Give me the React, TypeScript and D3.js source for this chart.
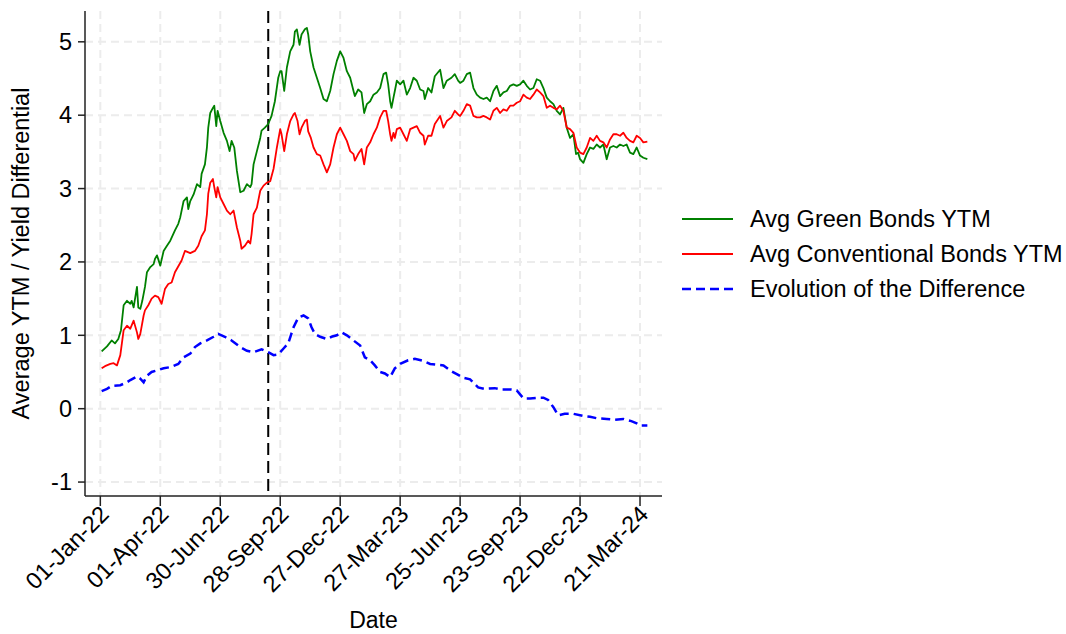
import React from 'react';
import * as d3 from 'd3';

// values (date, value)
const greenSeries: [string, number][] = [
  ['2022-01-03', 0.78], ['2022-01-11', 0.85], ['2022-01-18', 0.93], ['2022-01-23', 0.89], ['2022-01-28', 0.95],
  ['2022-02-01', 1.07], ['2022-02-05', 1.41], ['2022-02-10', 1.47], ['2022-02-15', 1.43], ['2022-02-17', 1.47],
  ['2022-02-20', 1.38], ['2022-02-25', 1.66], ['2022-02-27', 1.38], ['2022-03-02', 1.36], ['2022-03-05', 1.47],
  ['2022-03-09', 1.66], ['2022-03-12', 1.86], ['2022-03-17', 1.93], ['2022-03-22', 1.97], ['2022-03-24', 2.04],
  ['2022-03-27', 2.09], ['2022-04-01', 1.95], ['2022-04-06', 2.15], ['2022-04-11', 2.22], ['2022-04-16', 2.29],
  ['2022-04-23', 2.43], ['2022-04-28', 2.52], ['2022-05-01', 2.61], ['2022-05-06', 2.83], ['2022-05-11', 2.88],
  ['2022-05-13', 2.72], ['2022-05-16', 2.83], ['2022-05-21', 2.92], ['2022-05-26', 3.06], ['2022-05-31', 3.02],
  ['2022-06-02', 3.2], ['2022-06-07', 3.33], ['2022-06-10', 3.56], ['2022-06-12', 3.83], ['2022-06-15', 4.03],
  ['2022-06-19', 4.1], ['2022-06-21', 4.13], ['2022-06-24', 3.85], ['2022-06-26', 4.06], ['2022-06-30', 3.92],
  ['2022-07-05', 3.76], ['2022-07-10', 3.65], ['2022-07-14', 3.51], ['2022-07-17', 3.65], ['2022-07-21', 3.56],
  ['2022-07-25', 3.24], ['2022-07-30', 2.95], ['2022-08-04', 2.97], ['2022-08-09', 3.06], ['2022-08-14', 3.02],
  ['2022-08-16', 3.06], ['2022-08-19', 3.33], ['2022-08-24', 3.51], ['2022-08-29', 3.69], ['2022-08-31', 3.79],
  ['2022-09-05', 3.83], ['2022-09-10', 3.88], ['2022-09-15', 3.99], ['2022-09-20', 4.19], ['2022-09-25', 4.51],
  ['2022-09-28', 4.6], ['2022-09-30', 4.6], ['2022-10-04', 4.33], ['2022-10-08', 4.65], ['2022-10-13', 4.87],
  ['2022-10-18', 4.96], ['2022-10-20', 5.14], ['2022-10-23', 5.17], ['2022-10-27', 4.96], ['2022-10-30', 5.1],
  ['2022-11-04', 5.17], ['2022-11-07', 5.19], ['2022-11-09', 5.1], ['2022-11-12', 4.87], ['2022-11-17', 4.65],
  ['2022-11-22', 4.51], ['2022-11-27', 4.37], ['2022-12-02', 4.22], ['2022-12-07', 4.19], ['2022-12-12', 4.33],
  ['2022-12-17', 4.56], ['2022-12-22', 4.74], ['2022-12-27', 4.87], ['2023-01-01', 4.78], ['2023-01-06', 4.6],
  ['2023-01-11', 4.51], ['2023-01-16', 4.33], ['2023-01-18', 4.26], ['2023-01-23', 4.35], ['2023-01-28', 4.31],
  ['2023-02-01', 4.03], ['2023-02-05', 4.15], ['2023-02-10', 4.19], ['2023-02-15', 4.28], ['2023-02-20', 4.31],
  ['2023-02-25', 4.37], ['2023-03-02', 4.56], ['2023-03-06', 4.58], ['2023-03-09', 4.42], ['2023-03-12', 4.19],
  ['2023-03-14', 4.1], ['2023-03-17', 4.24], ['2023-03-19', 4.33], ['2023-03-22', 4.47], ['2023-03-27', 4.42],
  ['2023-04-01', 4.47], ['2023-04-06', 4.28], ['2023-04-11', 4.37], ['2023-04-16', 4.51], ['2023-04-21', 4.47],
  ['2023-04-26', 4.35], ['2023-05-01', 4.33], ['2023-05-03', 4.22], ['2023-05-08', 4.37], ['2023-05-13', 4.31],
  ['2023-05-18', 4.53], ['2023-05-26', 4.62], ['2023-05-31', 4.37], ['2023-06-05', 4.47], ['2023-06-12', 4.51],
  ['2023-06-17', 4.56], ['2023-06-22', 4.47], ['2023-06-25', 4.44], ['2023-06-30', 4.47], ['2023-07-05', 4.56],
  ['2023-07-10', 4.58], ['2023-07-15', 4.37], ['2023-07-20', 4.28], ['2023-07-25', 4.24], ['2023-07-30', 4.22],
  ['2023-08-04', 4.24], ['2023-08-09', 4.19], ['2023-08-14', 4.33], ['2023-08-19', 4.4], ['2023-08-24', 4.26],
  ['2023-08-29', 4.31], ['2023-09-03', 4.33], ['2023-09-08', 4.4], ['2023-09-13', 4.42], ['2023-09-18', 4.4],
  ['2023-09-23', 4.42], ['2023-09-28', 4.47], ['2023-10-03', 4.4], ['2023-10-08', 4.35], ['2023-10-13', 4.37],
  ['2023-10-18', 4.49], ['2023-10-23', 4.47], ['2023-10-28', 4.37], ['2023-11-02', 4.24], ['2023-11-07', 4.19],
  ['2023-11-12', 4.15], ['2023-11-17', 4.06], ['2023-11-22', 4.01], ['2023-11-27', 4.1], ['2023-12-02', 3.83],
  ['2023-12-07', 3.69], ['2023-12-12', 3.74], ['2023-12-16', 3.47], ['2023-12-19', 3.49], ['2023-12-22', 3.4],
  ['2023-12-27', 3.35], ['2024-01-01', 3.47], ['2024-01-06', 3.56], ['2024-01-11', 3.54], ['2024-01-16', 3.6],
  ['2024-01-21', 3.56], ['2024-01-26', 3.6], ['2024-01-31', 3.4], ['2024-02-05', 3.56], ['2024-02-10', 3.58],
  ['2024-02-15', 3.56], ['2024-02-20', 3.6], ['2024-02-25', 3.58], ['2024-03-01', 3.6], ['2024-03-06', 3.49],
  ['2024-03-11', 3.47], ['2024-03-16', 3.56], ['2024-03-21', 3.45], ['2024-03-26', 3.42], ['2024-04-01', 3.4],
];

const redSeries: [string, number][] = [
  ['2022-01-03', 0.55], ['2022-01-08', 0.58], ['2022-01-16', 0.61], ['2022-01-21', 0.62], ['2022-01-26', 0.59],
  ['2022-01-31', 0.73], ['2022-02-05', 1.07], ['2022-02-10', 1.13], ['2022-02-15', 1.09], ['2022-02-20', 1.2],
  ['2022-02-25', 1.04], ['2022-02-27', 0.95], ['2022-03-02', 1.02], ['2022-03-07', 1.27], ['2022-03-09', 1.34],
  ['2022-03-14', 1.41], ['2022-03-19', 1.5], ['2022-03-24', 1.54], ['2022-03-29', 1.52], ['2022-04-03', 1.43],
  ['2022-04-08', 1.63], ['2022-04-13', 1.7], ['2022-04-18', 1.72], ['2022-04-23', 1.86], ['2022-05-03', 2.02],
  ['2022-05-08', 2.15], ['2022-05-16', 2.12], ['2022-05-23', 2.15], ['2022-05-28', 2.22], ['2022-06-02', 2.35],
  ['2022-06-07', 2.43], ['2022-06-10', 2.65], ['2022-06-12', 2.93], ['2022-06-15', 3.08], ['2022-06-19', 3.13],
  ['2022-06-21', 3.02], ['2022-06-24', 2.88], ['2022-06-26', 3.02], ['2022-06-30', 2.88], ['2022-07-05', 2.79],
  ['2022-07-10', 2.7], ['2022-07-15', 2.65], ['2022-07-20', 2.7], ['2022-07-25', 2.47], ['2022-07-30', 2.29],
  ['2022-08-01', 2.18], ['2022-08-06', 2.22], ['2022-08-11', 2.29], ['2022-08-14', 2.25], ['2022-08-16', 2.38],
  ['2022-08-19', 2.65], ['2022-08-24', 2.74], ['2022-08-29', 2.97], ['2022-09-03', 3.04], ['2022-09-08', 3.08],
  ['2022-09-13', 3.1], ['2022-09-18', 3.27], ['2022-09-23', 3.56], ['2022-09-28', 3.81], ['2022-09-30', 3.74],
  ['2022-10-04', 3.51], ['2022-10-08', 3.74], ['2022-10-13', 3.92], ['2022-10-18', 4.01], ['2022-10-20', 4.03],
  ['2022-10-24', 3.92], ['2022-10-27', 3.74], ['2022-10-30', 3.83], ['2022-11-04', 3.92], ['2022-11-07', 3.94],
  ['2022-11-09', 3.78], ['2022-11-13', 3.69], ['2022-11-17', 3.56], ['2022-11-22', 3.47], ['2022-11-27', 3.45],
  ['2022-12-02', 3.33], ['2022-12-07', 3.22], ['2022-12-12', 3.33], ['2022-12-17', 3.56], ['2022-12-22', 3.74],
  ['2022-12-27', 3.83], ['2023-01-01', 3.74], ['2023-01-06', 3.65], ['2023-01-11', 3.51], ['2023-01-16', 3.47],
  ['2023-01-18', 3.38], ['2023-01-23', 3.47], ['2023-01-28', 3.54], ['2023-02-01', 3.33], ['2023-02-05', 3.56],
  ['2023-02-10', 3.63], ['2023-02-15', 3.74], ['2023-02-20', 3.83], ['2023-02-25', 3.97], ['2023-03-02', 4.06],
  ['2023-03-06', 4.06], ['2023-03-09', 3.92], ['2023-03-12', 3.74], ['2023-03-14', 3.65], ['2023-03-17', 3.76],
  ['2023-03-19', 3.69], ['2023-03-22', 3.81], ['2023-03-27', 3.83], ['2023-04-01', 3.74], ['2023-04-06', 3.65],
  ['2023-04-11', 3.81], ['2023-04-16', 3.83], ['2023-04-21', 3.85], ['2023-04-26', 3.76], ['2023-05-01', 3.72],
  ['2023-05-03', 3.6], ['2023-05-08', 3.72], ['2023-05-13', 3.72], ['2023-05-18', 3.88], ['2023-05-26', 3.99],
  ['2023-05-31', 3.83], ['2023-06-05', 3.92], ['2023-06-12', 3.97], ['2023-06-17', 4.06], ['2023-06-22', 4.01],
  ['2023-06-25', 3.99], ['2023-06-30', 4.06], ['2023-07-05', 4.15], ['2023-07-10', 4.13], ['2023-07-15', 3.99],
  ['2023-07-20', 3.97], ['2023-07-25', 3.97], ['2023-07-30', 3.99], ['2023-08-04', 3.97], ['2023-08-09', 3.94],
  ['2023-08-14', 4.06], ['2023-08-19', 4.1], ['2023-08-24', 4.03], ['2023-08-29', 4.08], ['2023-09-03', 4.06],
  ['2023-09-08', 4.13], ['2023-09-13', 4.13], ['2023-09-18', 4.17], ['2023-09-23', 4.19], ['2023-09-28', 4.28],
  ['2023-10-03', 4.24], ['2023-10-08', 4.22], ['2023-10-13', 4.28], ['2023-10-18', 4.35], ['2023-10-23', 4.31],
  ['2023-10-28', 4.26], ['2023-11-02', 4.1], ['2023-11-07', 4.13], ['2023-11-12', 4.1], ['2023-11-17', 4.08],
  ['2023-11-22', 4.13], ['2023-11-27', 4.06], ['2023-12-02', 3.83], ['2023-12-07', 3.81], ['2023-12-12', 3.76],
  ['2023-12-17', 3.56], ['2023-12-22', 3.49], ['2023-12-27', 3.47], ['2024-01-01', 3.56], ['2024-01-06', 3.69],
  ['2024-01-11', 3.65], ['2024-01-16', 3.72], ['2024-01-21', 3.65], ['2024-01-26', 3.63], ['2024-01-31', 3.56],
  ['2024-02-05', 3.67], ['2024-02-10', 3.74], ['2024-02-15', 3.74], ['2024-02-20', 3.72], ['2024-02-25', 3.76],
  ['2024-03-01', 3.69], ['2024-03-06', 3.65], ['2024-03-11', 3.63], ['2024-03-16', 3.72], ['2024-03-21', 3.69],
  ['2024-03-26', 3.63], ['2024-04-01', 3.64],
];

const diffSeries: [string, number][] = [
  ['2022-01-03', 0.24], ['2022-01-11', 0.27], ['2022-01-18', 0.31], ['2022-01-31', 0.32], ['2022-02-10', 0.36],
  ['2022-02-15', 0.39], ['2022-02-25', 0.44], ['2022-03-02', 0.41], ['2022-03-07', 0.36], ['2022-03-12', 0.45],
  ['2022-03-19', 0.5], ['2022-04-06', 0.55], ['2022-04-18', 0.57], ['2022-04-28', 0.61], ['2022-05-06', 0.7],
  ['2022-05-16', 0.75], ['2022-05-23', 0.84], ['2022-05-31', 0.89], ['2022-06-10', 0.93], ['2022-06-20', 0.98],
  ['2022-06-27', 1.02], ['2022-07-07', 0.98], ['2022-07-17', 0.93], ['2022-07-30', 0.84], ['2022-08-09', 0.79],
  ['2022-08-19', 0.77], ['2022-08-31', 0.81], ['2022-09-10', 0.77], ['2022-09-18', 0.73], ['2022-09-25', 0.74],
  ['2022-10-03', 0.82], ['2022-10-10', 0.89], ['2022-10-18', 1.11], ['2022-10-25', 1.24], ['2022-11-02', 1.27],
  ['2022-11-09', 1.23], ['2022-11-14', 1.11], ['2022-11-19', 1.02], ['2022-11-27', 0.98], ['2022-12-07', 0.95],
  ['2022-12-14', 0.98], ['2022-12-22', 1.0], ['2022-12-29', 1.04], ['2023-01-06', 1.0], ['2023-01-16', 0.93],
  ['2023-01-26', 0.86], ['2023-02-02', 0.7], ['2023-02-10', 0.66], ['2023-02-17', 0.59], ['2023-02-25', 0.5],
  ['2023-03-04', 0.48], ['2023-03-12', 0.43], ['2023-03-19', 0.55], ['2023-03-27', 0.61], ['2023-04-08', 0.66],
  ['2023-04-18', 0.68], ['2023-05-01', 0.65], ['2023-05-11', 0.61], ['2023-05-21', 0.6], ['2023-05-31', 0.59],
  ['2023-06-10', 0.52], ['2023-06-20', 0.47], ['2023-06-30', 0.42], ['2023-07-10', 0.4], ['2023-07-22', 0.29],
  ['2023-08-01', 0.27], ['2023-08-16', 0.28], ['2023-08-26', 0.26], ['2023-09-10', 0.26], ['2023-09-18', 0.25],
  ['2023-09-28', 0.14], ['2023-10-08', 0.14], ['2023-10-20', 0.15], ['2023-10-28', 0.15], ['2023-11-04', 0.12],
  ['2023-11-12', 0.02], ['2023-11-19', -0.09], ['2023-11-29', -0.07], ['2023-12-12', -0.07], ['2023-12-27', -0.1],
  ['2024-01-06', -0.11], ['2024-01-16', -0.13], ['2024-01-31', -0.14], ['2024-02-12', -0.15], ['2024-02-25', -0.14],
  ['2024-03-08', -0.17], ['2024-03-16', -0.2], ['2024-03-21', -0.23], ['2024-04-01', -0.23],
];

const xTickDates = ['2022-01-01', '2022-04-01', '2022-06-30', '2022-09-28', '2022-12-27', '2023-03-27', '2023-06-25', '2023-09-23', '2023-12-22', '2024-03-21'];
const xTickLabels = ['01-Jan-22', '01-Apr-22', '30-Jun-22', '28-Sep-22', '27-Dec-22', '27-Mar-23', '25-Jun-23', '23-Sep-23', '22-Dec-23', '21-Mar-24'];
const yTicks = [-1, 0, 1, 2, 3, 4, 5];
const eventDate = '2022-09-10';

const legendItems = [
  { label: 'Avg Green Bonds YTM', color: '#008000', dash: undefined as string | undefined },
  { label: 'Avg Conventional Bonds YTM', color: '#ff0000', dash: undefined as string | undefined },
  { label: 'Evolution of the Difference', color: '#0000ff', dash: '9,5' },
];

const W = 1066;
const H = 634;
const font = '"Liberation Sans", Arial, sans-serif';
const fs = 23.5;

const parse = d3.utcParse('%Y-%m-%d');

export default function App() {
  const left = 85, right = 662, top = 11, bottom = 496;

  const x = d3.scaleUtc()
    .domain([parse('2021-12-09')!, parse('2024-04-23')!])
    .range([left, right]);
  const y = d3.scaleLinear().domain([-1.19, 5.42]).range([bottom, top]);

  const line = d3.line<[string, number]>()
    .x(d => x(parse(d[0])!))
    .y(d => y(d[1]));

  const gridColor = '#ececec';

  return (
    <svg width={W} height={H} style={{ position: 'absolute', left: 0, top: 0, background: '#fff' }} fontFamily={font}>
      {/* grid */}
      {yTicks.map(t => (
        <line key={'gy' + t} x1={left} x2={right} y1={y(t)} y2={y(t)} stroke={gridColor} strokeWidth={2} strokeDasharray="8,5" />
      ))}
      {xTickDates.map(d => (
        <line key={'gx' + d} x1={x(parse(d)!)} x2={x(parse(d)!)} y1={top} y2={bottom} stroke={gridColor} strokeWidth={2} strokeDasharray="8,5" />
      ))}

      {/* event line */}
      <line x1={x(parse(eventDate)!)} x2={x(parse(eventDate)!)} y1={top} y2={bottom} stroke="#000" strokeWidth={2} strokeDasharray="12,6" />

      {/* series */}
      <path d={line(greenSeries) ?? ''} fill="none" stroke="#008000" strokeWidth={1.8} strokeLinejoin="round" />
      <path d={line(redSeries) ?? ''} fill="none" stroke="#ff0000" strokeWidth={1.8} strokeLinejoin="round" />
      <path d={line(diffSeries) ?? ''} fill="none" stroke="#0000ff" strokeWidth={2.5} strokeDasharray="9,5" />

      {/* axes */}
      <line x1={left} x2={left} y1={top} y2={bottom} stroke="#222" strokeWidth={1.5} />
      <line x1={left} x2={right} y1={bottom} y2={bottom} stroke="#222" strokeWidth={1.5} />
      {yTicks.map(t => (
        <g key={'yt' + t}>
          <line x1={left - 7} x2={left} y1={y(t)} y2={y(t)} stroke="#222" strokeWidth={1.5} />
          <text x={left - 13} y={y(t)} dy="0.35em" textAnchor="end" fontSize={fs} fill="#000">{t}</text>
        </g>
      ))}
      {xTickDates.map((d, i) => {
        const px = x(parse(d)!);
        return (
          <g key={'xt' + d}>
            <line x1={px} x2={px} y1={bottom} y2={bottom + 10} stroke="#222" strokeWidth={1.5} />
            <text transform={`translate(${px + 4},${bottom + 14}) rotate(-45)`} textAnchor="end" dy="0.35em" fontSize={fs} fill="#000">
              {xTickLabels[i]}
            </text>
          </g>
        );
      })}

      {/* axis titles */}
      <text transform={`translate(29,${(top + bottom) / 2}) rotate(-90)`} textAnchor="middle" fontSize={fs} fill="#000">
        Average YTM / Yield Differential
      </text>
      <text x={(left + right) / 2} y={628} textAnchor="middle" fontSize={23} fill="#000">Date</text>

      {/* legend */}
      {legendItems.map((it, i) => {
        const ly = 219 + i * 35;
        return (
          <g key={it.label}>
            <line x1={682} x2={733} y1={ly} y2={ly} stroke={it.color} strokeWidth={it.dash ? 2.5 : 1.8} strokeDasharray={it.dash} />
            <text x={750} y={ly} dy="0.35em" fontSize={fs} fill="#000">{it.label}</text>
          </g>
        );
      })}
    </svg>
  );
}
